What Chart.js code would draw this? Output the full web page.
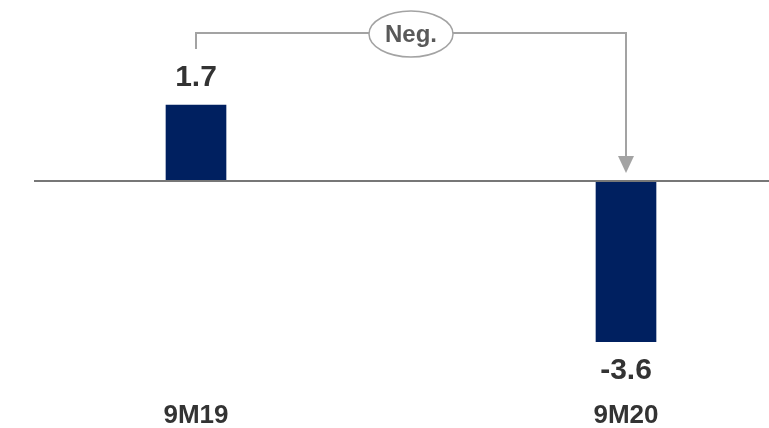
<!DOCTYPE html>
<html>
<head>
<meta charset="utf-8">
<script src="https://cdn.jsdelivr.net/npm/chart.js@4/dist/chart.umd.min.js"></script>
<style>
  html, body { margin: 0; padding: 0; background: #fff; }
  #wrap { width: 769px; height: 428px; }
</style>
</head>
<body>
<div id="wrap"><canvas id="chart" width="769" height="428"></canvas></div>
<script>
const periods = ['9M19', '9M20'];
const values = [1.7, -3.6];
const valueLabels = ['1.7', '-3.6'];
const changeLabel = 'Neg.';

const FONT = '"Liberation Sans", Arial, sans-serif';

// baseline, value labels, category labels and the "Neg." bracket
const decorPlugin = {
    id: 'decor',
    afterDatasetsDraw(chart) {
        const ctx = chart.ctx;
        const x = chart.scales.x;
        const y = chart.scales.y;
        const zero = y.getPixelForValue(0);
        const bars = chart.getDatasetMeta(0).data;

        ctx.save();
        // zero line
        ctx.strokeStyle = '#777777';
        ctx.lineWidth = 2;
        ctx.beginPath();
        ctx.moveTo(34, zero);
        ctx.lineTo(chart.width, zero);
        ctx.stroke();

        // value labels
        ctx.fillStyle = '#333333';
        ctx.font = 'bold 30px ' + FONT;
        ctx.textAlign = 'center';
        bars.forEach((bar, i) => {
            if (values[i] >= 0) {
                ctx.textBaseline = 'bottom';
                ctx.fillText(valueLabels[i], bar.x, bar.y - 12);
            } else {
                ctx.textBaseline = 'top';
                ctx.fillText(valueLabels[i], bar.x, bar.y + 14);
            }
        });

        // category labels
        ctx.font = 'bold 26px ' + FONT;
        ctx.textBaseline = 'middle';
        periods.forEach((p, i) => {
            ctx.fillText(p, x.getPixelForValue(i), 416);
        });

        // bracket with arrow
        const x1 = bars[0].x, x2 = bars[1].x;
        const top = 33;
        ctx.strokeStyle = '#a3a3a3';
        ctx.lineWidth = 2;
        ctx.beginPath();
        ctx.moveTo(x1, 49);
        ctx.lineTo(x1, top);
        ctx.lineTo(x2, top);
        ctx.lineTo(x2, zero - 24);
        ctx.stroke();
        ctx.fillStyle = '#a3a3a3';
        ctx.beginPath();
        ctx.moveTo(x2 - 8, zero - 25);
        ctx.lineTo(x2 + 8, zero - 25);
        ctx.lineTo(x2, zero - 8);
        ctx.closePath();
        ctx.fill();

        // pill
        const cx = (x1 + x2) / 2;
        ctx.fillStyle = '#ffffff';
        ctx.strokeStyle = '#a3a3a3';
        ctx.lineWidth = 1.5;
        ctx.beginPath();
        ctx.ellipse(cx, 34, 42, 23, 0, 0, Math.PI * 2);
        ctx.fill();
        ctx.stroke();
        ctx.fillStyle = '#595959';
        ctx.font = 'bold 24px ' + FONT;
        ctx.textBaseline = 'middle';
        ctx.fillText(changeLabel, cx, 35);
        ctx.restore();
    }
};

new Chart(document.getElementById('chart'), {
    type: 'bar',
    data: {
        labels: periods,
        datasets: [{
            data: values,
            backgroundColor: '#002060',
            barThickness: 60,
            clip: false
        }]
    },
    options: {
        responsive: false,
        animation: false,
        layout: { padding: { left: 196, right: 143, top: 69.5, bottom: 46.3 } },
        plugins: { legend: { display: false }, tooltip: { enabled: false } },
        scales: {
            x: { display: false, offset: false },
            y: { display: false, min: -4.5, max: 2.5 }
        }
    },
    plugins: [decorPlugin]
});
</script>
</body>
</html>
